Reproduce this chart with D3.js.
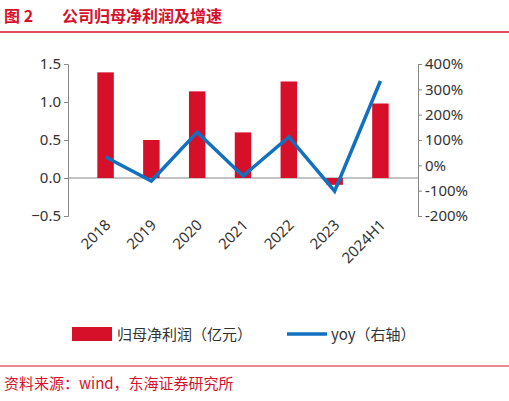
<!DOCTYPE html><html><head><meta charset="utf-8">
<script src="https://cdn.jsdelivr.net/npm/d3@7/dist/d3.min.js"></script>
<style>body{margin:0;background:#fff;font-family:"Noto Sans CJK SC","Noto Sans",sans-serif}</style></head><body>
<svg id="c" width="509" height="401"></svg>
<script>
const categories=["2018","2019","2020","2021","2022","2023","2024H1"];
const profit=[1.39,0.50,1.14,0.60,1.27,-0.09,0.98];
const yoy=[33,-62,131,-42,112,-102,333];
const leftTicks=[-0.5,0,0.5,1.0,1.5];
const rightTicks=[-200,-100,0,100,200,300,400];
const svg=d3.select("#c");
const red="#d7102a",blue="#1170c0";
svg.append("text").attr("x",4).attr("y",22).attr("fill",red).attr("font-size",16).attr("font-weight","bold").text("图 2");
svg.append("text").attr("x",62).attr("y",22).attr("fill",red).attr("font-size",16).attr("font-weight","bold").text("公司归母净利润及增速");
svg.append("line").attr("x1",0).attr("x2",509).attr("y1",32).attr("y2",32).attr("stroke",red).attr("stroke-width",1.5);
const x=d3.scaleBand().domain(categories).range([68,418]).padding(0.64);
const yl=d3.scaleLinear().domain([-0.5,1.5]).range([216,64]);
const yr=d3.scaleLinear().domain([-200,400]).range([216,64]);
const gl=svg.append("g").attr("transform","translate(68,0)").call(d3.axisLeft(yl).tickValues(leftTicks).tickFormat(d3.format(".1f")).tickSize(4));
const gr=svg.append("g").attr("transform","translate(418,0)").call(d3.axisRight(yr).tickValues(rightTicks).tickFormat(d=>d+"%").tickSize(4));
[gl,gr].forEach(g=>{g.selectAll("path,line").attr("stroke","#888");g.selectAll("text").attr("font-size",15).attr("fill","#333").attr("font-family","Noto Sans");});
svg.append("line").attr("x1",68).attr("x2",418).attr("y1",yl(0)).attr("y2",yl(0)).attr("stroke","#888");
svg.selectAll(".b").data(profit).join("rect").attr("x",(d,i)=>x(categories[i])).attr("width",x.bandwidth())
 .attr("y",d=>yl(Math.max(0,d))).attr("height",d=>Math.abs(yl(d)-yl(0))).attr("fill",red);
const cx=c=>x(c)+x.bandwidth()/2;
svg.append("path").datum(yoy).attr("fill","none").attr("stroke",blue).attr("stroke-width",3.5)
 .attr("d",d3.line().x((d,i)=>cx(categories[i])).y(d=>yr(d)));
categories.forEach(c=>svg.append("text").attr("transform",`translate(${cx(c)+6},226) rotate(-45)`).attr("text-anchor","end").attr("font-size",15).attr("fill","#333").attr("font-family","Noto Sans").text(c));
svg.append("rect").attr("x",72).attr("y",327).attr("width",40).attr("height",14).attr("fill",red);
svg.append("text").attr("x",117).attr("y",340).attr("font-size",15).attr("fill","#333").text("归母净利润（亿元）");
svg.append("line").attr("x1",287).attr("x2",327).attr("y1",334).attr("y2",334).attr("stroke",blue).attr("stroke-width",3.5);
svg.append("text").attr("x",331).attr("y",340).attr("font-size",15).attr("fill","#333").text("yoy（右轴）");
svg.append("line").attr("x1",0).attr("x2",509).attr("y1",366).attr("y2",366).attr("stroke",red).attr("stroke-width",1);
svg.append("text").attr("x",4).attr("y",389).attr("font-size",15).attr("fill",red).text("资料来源：wind，东海证券研究所");
</script></body></html>
